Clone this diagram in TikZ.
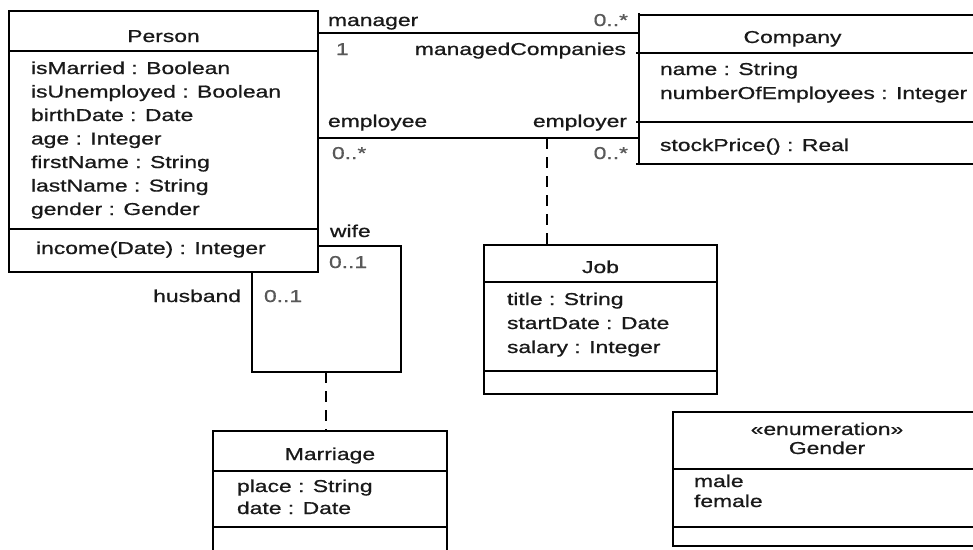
\documentclass[tikz,border=0pt]{standalone}
\usepackage{fontspec}
\setmainfont{Liberation Sans}[FakeStretch=1.33, FakeBold=0.8]
\usetikzlibrary{calc}
\begin{document}
\begin{tikzpicture}[x=1pt,y=-1pt,
  every node/.style={inner sep=0pt, outer sep=0pt,
    font=\fontsize{17.2}{20}\selectfont, text=black!90},
  cls/.style={draw, line width=1.2pt},
  box/.style={line width=1.2pt},
  heavy/.style={line width=2.2pt},
  assoc/.style={line width=1.2pt},
  dep/.style={line width=1.2pt, dash pattern=on 11pt off 8pt},
  txt/.style={anchor=base west},
  ctxt/.style={anchor=base},
  rtxt/.style={anchor=base east},
  mult/.style={text=black!65}]
\useasboundingbox (0,0) rectangle (973,549);
\clip (0,0) rectangle (973,549);

% ---------- Person ----------
\node[cls, minimum width=309pt, minimum height=261pt] (person) at (163.5,141.5) {};
\draw[box] ($(person.north west)+(0,40)$) -- ($(person.north east)+(0,40)$);
\draw[box] ($(person.north west)+(0,218)$) -- ($(person.north east)+(0,218)$);
\node[ctxt] (person-name) at (163.5,42) {Person};
\foreach \t [count=\i] in {isMarried : Boolean, isUnemployed : Boolean,
    birthDate : Date, age : Integer, firstName : String, lastName : String,
    gender : Gender}
  \node[txt] (person-a\i) at (31,{74+23.5*(\i-1)}) {\t};
\node[txt] (person-op) at (36,254) {income(Date) : Integer};

% ---------- Company ----------
\node[cls, minimum width=361pt, minimum height=149pt] (company) at (819.5,89.5) {};
\draw[box] ($(company.north west)+(0,-2)$) -- (company.north west);
\draw[box] ($(company.north west)+(-3,38)$) -- ($(company.north east)+(0,38)$);
\draw[box] ($(company.north west)+(-3,107)$) -- ($(company.north east)+(0,107)$);
\draw[heavy] ($(company.south west)+(-3,0)$) -- (company.south east);
\node[ctxt] (company-name) at (792.5,43) {Company};
\node[txt] (company-a1) at (660,75) {name : String};
\node[txt] (company-a2) at (660,99) {numberOfEmployees : Integer};
\node[txt] (company-op) at (660,151) {stockPrice() : Real};

% ---------- Job ----------
\node[cls, minimum width=233pt, minimum height=149pt] (job) at (600.5,319.5) {};
\draw[heavy] ($(job.north west)+(0,37)$) -- ($(job.north east)+(0,37)$);
\draw[box] ($(job.north west)+(0,126)$) -- ($(job.north east)+(0,126)$);
\draw[heavy] (job.north west) -- (job.south west);
\node[ctxt] (job-name) at (600.5,273) {Job};
\node[txt] (job-a1) at (507,305) {title : String};
\node[txt] (job-a2) at (507,329) {startDate : Date};
\node[txt] (job-a3) at (507,353) {salary : Integer};

% ---------- Marriage ----------
\node[cls, minimum width=234pt, minimum height=149pt] (marriage) at (330,505.5) {};
\draw[box] ($(marriage.north west)+(0,40)$) -- ($(marriage.north east)+(0,40)$);
\draw[heavy] ($(marriage.north west)+(0,96)$) -- ($(marriage.north east)+(0,96)$);
\draw[heavy] (marriage.north east) -- (marriage.south east);
\node[ctxt] (marriage-name) at (330,460) {Marriage};
\node[txt] (marriage-a1) at (237,492) {place : String};
\node[txt] (marriage-a2) at (237,514) {date : Date};

% ---------- Gender ----------
\node[cls, minimum width=308pt, minimum height=134pt] (gender) at (827,479) {};
\draw[heavy] ($(gender.north west)+(0,57)$) -- ($(gender.north east)+(0,57)$);
\draw[heavy] ($(gender.north west)+(0,115)$) -- ($(gender.north east)+(0,115)$);
\node[ctxt] (gender-st) at (827,435) {«enumeration»};
\node[ctxt] (gender-name) at (827,454) {Gender};
\node[txt] (gender-l1) at (694,487) {male};
\node[txt] (gender-l2) at (694,507) {female};

% ---------- manager / managedCompanies ----------
\draw[assoc] ($(person.north east)+(0,22)$) coordinate (mgr-p)
  -- (mgr-p -| company.west) coordinate (mgr-c);
\node[txt] (mgr-role) at ($(mgr-p)+(10,-7)$) {manager};
\node[rtxt, mult] (mgr-mult) at ($(mgr-c)+(-11,-7)$) {0..*};
\node[txt, mult] (mc-mult) at ($(mgr-p)+(18,22)$) {1};
\node[rtxt] (mc-role) at ($(mgr-c)+(-13,22)$) {managedCompanies};

% ---------- employee / employer ----------
\draw[heavy] ($(person.north east)+(0,127)$) coordinate (emp-p)
  -- (emp-p -| company.west) coordinate (emp-c);
\node[txt] (emp-role) at ($(emp-p)+(10,-11)$) {employee};
\node[rtxt] (emr-role) at ($(emp-c)+(-12,-11)$) {employer};
\node[txt, mult] (emp-mult) at ($(emp-p)+(14,21)$) {0..*};
\node[rtxt, mult] (emr-mult) at ($(emp-c)+(-11,21)$) {0..*};
\coordinate (job-link) at ($(emp-p)+(229,0)$);
\draw[dep] (job-link) -- (job-link |- job.north);

% ---------- wife / husband ----------
\draw[assoc] ($(person.south east)+(0,-26)$) coordinate (wife-p)
  -- ++(83,0) coordinate (mar-ne)
  -- ++(0,126) coordinate (mar-se)
  -- ++(-149,0) coordinate (mar-sw)
  -- (mar-sw |- person.south) coordinate (husb-p);
\draw[heavy] (mar-ne) -- (mar-se);
\node[txt] (wife-role) at ($(wife-p)+(12,-9)$) {wife};
\node[txt, mult] (wife-mult) at ($(wife-p)+(11,22)$) {0..1};
\node[rtxt] (husb-role) at ($(husb-p)+(-11,30)$) {husband};
\node[txt, mult] (husb-mult) at ($(husb-p)+(12,30)$) {0..1};
\coordinate (mar-link) at ($(mar-sw)+(74,0)$);
\draw[dep] (mar-link) -- (mar-link |- marriage.north);
\end{tikzpicture}
\end{document}
